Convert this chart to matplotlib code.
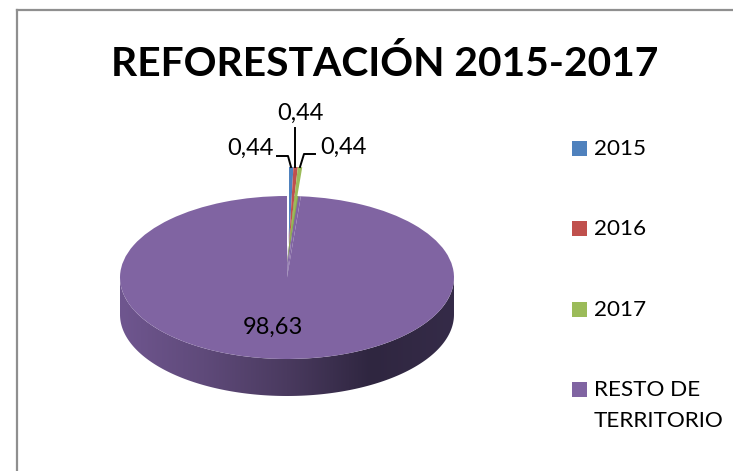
import numpy as np
import matplotlib
matplotlib.use("Agg")
import matplotlib.pyplot as plt
from matplotlib.colors import LinearSegmentedColormap
from matplotlib.lines import Line2D
from matplotlib.patches import Polygon, Rectangle

plt.rcParams["font.family"] = ["Lato", "DejaVu Sans"]

# data
categories = ["2015", "2016", "2017", "RESTO DE\nTERRITORIO"]
values = [0.44, 0.44, 0.44, 98.63]
value_labels = ["0,44", "0,44", "0,44", "98,63"]
colors = ["#4f81bd", "#c0504d", "#9bbb59", "#8064a2"]
title = "REFORESTACIÓN 2015-2017"

W, H = 733, 471
fig = plt.figure(figsize=(W / 100, H / 100), dpi=100, facecolor="white")


def fx(x):
    return x / W


def fy(y):
    return 1 - y / H


# pie ellipse in pixels, axes also holds the side wall below it
left, right, top, bottom, wall = 120, 454, 196, 359, 37
ry = (bottom - top) / 2
depth = wall / ry
ax = fig.add_axes([fx(left), fy(bottom + wall), (right - left) / W, (bottom + wall - top) / H])

# side wall with gradient
t = np.linspace(np.pi, 2 * np.pi, 200)
wall_x = np.concatenate([np.cos(t), np.cos(t[::-1])])
wall_y = np.concatenate([np.sin(t), np.sin(t[::-1]) - depth])
wall_cmap = LinearSegmentedColormap.from_list("wall", ["#6f568f", "#5f4a7a", "#4a3a5f", "#2f2640", "#352b48"])
grad = ax.imshow(np.linspace(0, 1, 256).reshape(1, -1), extent=(-1, 1, -1 - depth, 1),
                 cmap=wall_cmap, aspect="auto", zorder=1)
grad.set_clip_path(Polygon(np.column_stack([wall_x, wall_y]), transform=ax.transData))

# top face, full purple base
ax.pie(values, colors=[colors[3]] * 4, startangle=90, counterclock=False, radius=1,
       wedgeprops={"zorder": 2, "linewidth": 0})
# the gap the small slices leave behind
ax.pie(values, colors=["white", "white", "#8aa84f", (0, 0, 0, 0)], startangle=90, counterclock=False,
       radius=0.82, center=(0.0, 0.18), wedgeprops={"zorder": 3, "linewidth": 0})
# the small slices, pulled up
wedges, _ = ax.pie(values, colors=colors[:3] + [(0, 0, 0, 0)], startangle=90, counterclock=False,
                   radius=0.957, center=(0.012, 0.40), wedgeprops={"zorder": 4, "linewidth": 0})
for w in wedges[:3]:
    w.set_clip_on(False)

ax.set_aspect("auto")
ax.set_xlim(-1, 1)
ax.set_ylim(-1 - depth, 1)
ax.axis("off")

# frame of the chart (only left and top show)
frame = "#8f8f8f"
fig.add_artist(Line2D([fx(17), fx(17)], [fy(10), 0], color=frame, lw=1.6))
fig.add_artist(Line2D([fx(17), 1], [fy(10), fy(10)], color=frame, lw=1.6))

fig.text(fx(384.5), fy(76), title, ha="center", va="baseline", fontsize=29.3, fontweight="bold", color="black")

# value labels
label_pos = [(250, 148), (300, 113), (343, 147), (273, 327)]
for s, (x, y) in zip(value_labels, label_pos):
    fig.text(fx(x), fy(y), s, ha="center", va="center", fontsize=17, color="black")

# leader lines
leaders = [([277, 288, 291], [156, 156, 167]),
           ([295, 295], [128, 167]),
           ([315, 304, 300], [154, 154, 167])]
for xs, ys in leaders:
    fig.add_artist(Line2D([fx(x) for x in xs], [fy(y) for y in ys], color="black", lw=1.4))

# legend
legend_tops = [141, 221, 302, 382]
for name, c, y in zip(categories, colors, legend_tops):
    fig.add_artist(Rectangle((fx(572), fy(y + 15)), 15 / W, 15 / H, color=c, lw=0, transform=fig.transFigure))
    fig.text(fx(594), fy(y - 2), name, ha="left", va="top", fontsize=16.2, color="black", linespacing=1.7)

fig.savefig("out.png", dpi=100)
